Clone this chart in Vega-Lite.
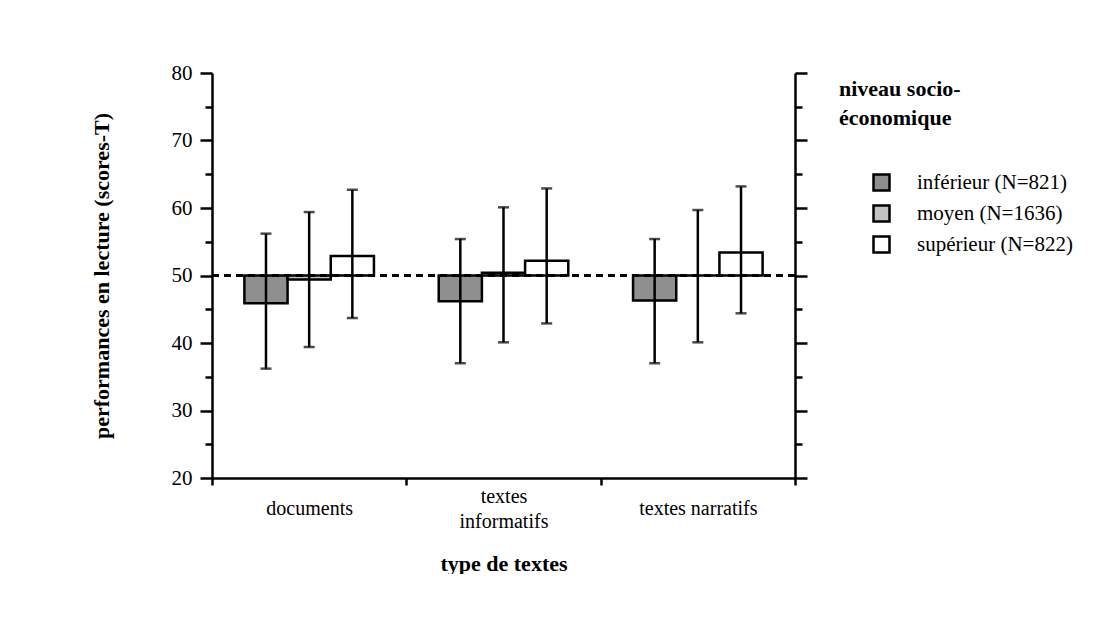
{
  "$schema": "https://vega.github.io/schema/vega-lite/v6.json",
  "width": 583,
  "height": 405,
  "autosize": {"type": "pad"},
  "padding": {"left": 90, "top": 62, "right": 0, "bottom": 0},
  "background": "white",
  "config": {
    "font": "Liberation Serif",
    "view": {"stroke": null},
    "axis": {
      "domainColor": "black",
      "tickColor": "black",
      "labelColor": "black",
      "titleColor": "black",
      "domainWidth": 2.5,
      "tickWidth": 2.5,
      "grid": false,
      "labelFont": "Liberation Serif",
      "titleFont": "Liberation Serif",
      "titleFontWeight": "bold",
      "titleFontSize": 22,
      "labelFontWeight": "normal"
    },
    "legend": {
      "labelFont": "Liberation Serif",
      "titleFont": "Liberation Serif"
    }
  },
  "data": {
    "values": [
      {"type": "documents", "niveau": "inférieur (N=821)", "moyenne": 45.9, "bas": 36.2, "haut": 56.2},
      {"type": "documents", "niveau": "moyen (N=1636)", "moyenne": 49.4, "bas": 39.4, "haut": 59.4},
      {"type": "documents", "niveau": "supérieur (N=822)", "moyenne": 52.9, "bas": 43.7, "haut": 62.7},
      {"type": "textes informatifs", "niveau": "inférieur (N=821)", "moyenne": 46.2, "bas": 37.0, "haut": 55.4},
      {"type": "textes informatifs", "niveau": "moyen (N=1636)", "moyenne": 50.4, "bas": 40.1, "haut": 60.1},
      {"type": "textes informatifs", "niveau": "supérieur (N=822)", "moyenne": 52.2, "bas": 42.9, "haut": 62.9},
      {"type": "textes narratifs", "niveau": "inférieur (N=821)", "moyenne": 46.3, "bas": 37.0, "haut": 55.4},
      {"type": "textes narratifs", "niveau": "moyen (N=1636)", "moyenne": 50.0, "bas": 40.1, "haut": 59.7},
      {"type": "textes narratifs", "niveau": "supérieur (N=822)", "moyenne": 53.4, "bas": 44.4, "haut": 63.2}
    ]
  },
  "layer": [
    {
      "mark": {"type": "bar", "stroke": "black", "strokeWidth": 2.5},
      "encoding": {
        "x": {
          "field": "type",
          "type": "nominal",
          "sort": ["documents", "textes informatifs", "textes narratifs"],
          "scale": {"paddingInner": 0, "paddingOuter": 0},
          "axis": {
            "title": "type de textes",
            "labelAngle": 0,
            "tickBand": "extent",
            "tickSize": 7,
            "labelFontSize": 20,
            "labelBaseline": "middle",
            "labelLineHeight": 25,
            "labelPadding": {"condition": {"test": "datum.value === 'textes informatifs'", "value": 11}, "value": 23},
            "labelExpr": "datum.label === 'textes informatifs' ? ['textes', 'informatifs'] : datum.label",
            "titlePadding": 22
          }
        },
        "xOffset": {
          "field": "niveau",
          "type": "nominal",
          "sort": ["inférieur (N=821)", "moyen (N=1636)", "supérieur (N=822)"],
          "scale": {"paddingInner": 0, "paddingOuter": 0.75}
        },
        "y": {
          "field": "moyenne",
          "type": "quantitative",
          "scale": {"domain": [20, 80], "nice": false, "zero": false},
          "axis": {
            "orient": "left",
            "values": [20, 25, 30, 35, 40, 45, 50, 55, 60, 65, 70, 75, 80],
            "labelExpr": "datum.value % 10 === 0 ? datum.label : ''",
            "tickSize": {"condition": {"test": "datum.value % 10 === 0", "value": 12}, "value": 7},
            "labelPadding": 8,
            "labelFontSize": 21,
            "title": "performances en lecture (scores-T)",
            "titlePadding": 58
          }
        },
        "y2": {"datum": 50},
        "color": {
          "field": "niveau",
          "type": "nominal",
          "scale": {
            "domain": ["inférieur (N=821)", "moyen (N=1636)", "supérieur (N=822)"],
            "range": ["#8f8f8f", "#c2c2c2", "#ffffff"]
          },
          "legend": {
            "orient": "right",
            "offset": 24,
            "padding": 6,
            "title": ["niveau socio-", "économique"],
            "titleFontSize": 22,
            "titleFontWeight": "bold",
            "titleLineHeight": 29,
            "titlePadding": 42,
            "titleLimit": 400,
            "titleColor": "black",
            "labelFontSize": 21,
            "labelColor": "black",
            "labelLimit": 400,
            "labelOffset": 25,
            "symbolType": "square",
            "symbolSize": 256,
            "symbolStrokeColor": "black",
            "symbolStrokeWidth": 2.5,
            "symbolOffset": 32,
            "symbolOpacity": 1,
            "rowPadding": 4
          }
        }
      }
    },
    {
      "mark": {"type": "rule", "color": "black", "strokeWidth": 2, "strokeDash": [7, 5]},
      "encoding": {
        "y": {"datum": 50, "type": "quantitative", "axis": null}
      }
    },
    {
      "mark": {"type": "rule", "color": "black", "strokeWidth": 2.5},
      "encoding": {
        "x": {"field": "type", "type": "nominal", "sort": ["documents", "textes informatifs", "textes narratifs"]},
        "xOffset": {"field": "niveau", "type": "nominal", "sort": ["inférieur (N=821)", "moyen (N=1636)", "supérieur (N=822)"]},
        "y": {
          "field": "bas",
          "type": "quantitative",
          "axis": {
            "orient": "right",
            "values": [20, 25, 30, 35, 40, 45, 50, 55, 60, 65, 70, 75, 80],
            "labels": false,
            "title": null,
            "tickSize": {"condition": {"test": "datum.value % 10 === 0", "value": 12}, "value": 7}
          }
        },
        "y2": {"field": "haut"}
      }
    },
    {
      "mark": {"type": "tick", "orient": "horizontal", "size": 11, "thickness": 2.5, "color": "black"},
      "encoding": {
        "x": {"field": "type", "type": "nominal", "sort": ["documents", "textes informatifs", "textes narratifs"]},
        "xOffset": {"field": "niveau", "type": "nominal", "sort": ["inférieur (N=821)", "moyen (N=1636)", "supérieur (N=822)"]},
        "y": {"field": "bas", "type": "quantitative", "axis": null}
      }
    },
    {
      "mark": {"type": "tick", "orient": "horizontal", "size": 11, "thickness": 2.5, "color": "black"},
      "encoding": {
        "x": {"field": "type", "type": "nominal", "sort": ["documents", "textes informatifs", "textes narratifs"]},
        "xOffset": {"field": "niveau", "type": "nominal", "sort": ["inférieur (N=821)", "moyen (N=1636)", "supérieur (N=822)"]},
        "y": {"field": "haut", "type": "quantitative", "axis": null}
      }
    }
  ],
  "resolve": {"scale": {"y": "shared"}, "axis": {"y": "independent"}}
}
